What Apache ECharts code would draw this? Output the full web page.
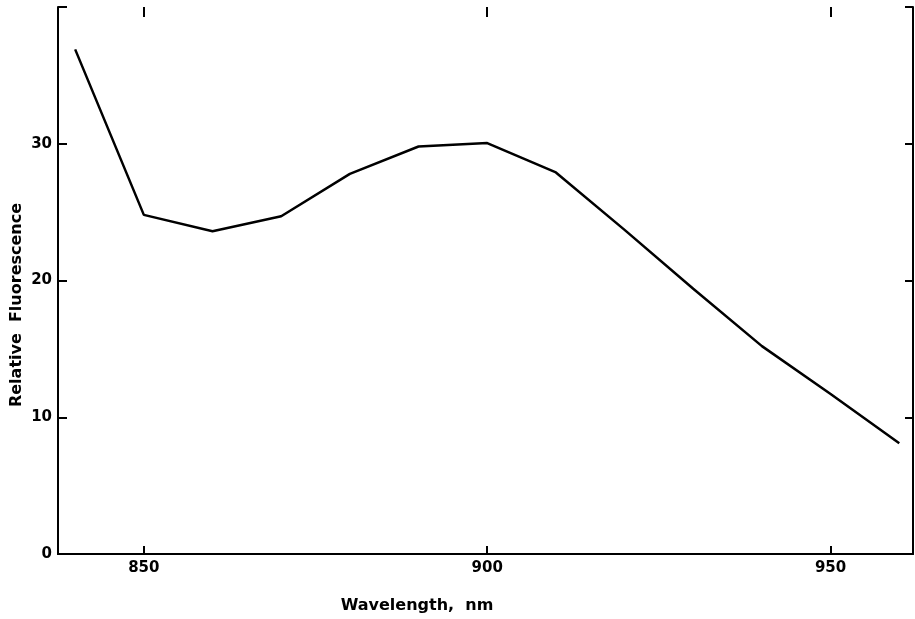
<!DOCTYPE html>
<html>
<head>
<meta charset="utf-8">
<script src="https://cdn.jsdelivr.net/npm/echarts@6/dist/echarts.min.js"></script>
<style>
  html, body { margin: 0; padding: 0; background: #fff; }
  #main { width: 915px; height: 619px; }
</style>
</head>
<body>
<div id="main"></div>
<script>
// values
const wavelength = [840, 850, 860, 870, 880, 890, 900, 910, 920, 930, 940, 950, 960];
const fluorescence = [36.9, 24.8, 23.6, 24.7, 27.8, 29.8, 30.05, 27.9, 23.7, 19.4, 15.2, 11.7, 8.1];
const xTicks = [850, 900, 950];
const yLabels = [0, 10, 20, 30];

const font = 'DejaVu Sans';
const chart = echarts.init(document.getElementById('main'));

const axisLine = { show: true, lineStyle: { color: '#000', width: 2 } };
const tickStyle = { color: '#000', width: 2 };

// second grid only carries the x ticks; it is wider so that 800..1000 step 50
// lands 850/900/950 on the same pixels as the main axis (837.5..962)
const xMin = 837.5, xMax = 962;
const gLeft = 58, gRight = 2;
const pxPerUnit = (915 - gLeft - gRight) / (xMax - xMin);
const tickGrid = {
  left: gLeft - (xMin - 800) * pxPerUnit,
  right: gRight - (1000 - xMax) * pxPerUnit,
  top: 7, bottom: 65,
  outerBoundsMode: 'none'
};

const hiddenTickAxis = (pos, len) => ({
  type: 'value', gridIndex: 1, position: pos, min: 800, max: 1000, interval: 50,
  axisLine: { show: false },
  axisTick: { show: true, inside: true, length: len, lineStyle: tickStyle },
  axisLabel: { show: false },
  splitLine: { show: false }
});

chart.setOption({
  animation: false,
  backgroundColor: '#fff',
  grid: [
    { left: gLeft, right: gRight, top: 7, bottom: 65, containLabel: false, outerBoundsMode: 'none' },
    tickGrid
  ],
  xAxis: [
    {
      type: 'value', position: 'bottom', min: xMin, max: xMax,
      axisLine: axisLine,
      axisTick: { show: false },
      axisLabel: { customValues: xTicks, color: '#000', fontFamily: font, fontWeight: 'bold', fontSize: 15, margin: 7 },
      splitLine: { show: false }
    },
    {
      type: 'value', position: 'top', min: xMin, max: xMax,
      axisLine: axisLine,
      axisTick: { show: false },
      axisLabel: { show: false },
      splitLine: { show: false }
    },
    hiddenTickAxis('bottom', 8),
    hiddenTickAxis('top', 10)
  ],
  yAxis: [
    {
      type: 'value', position: 'left', min: 0, max: 40, interval: 10,
      axisLine: axisLine,
      axisTick: { show: true, inside: true, length: 9, lineStyle: tickStyle },
      axisLabel: {
        color: '#000', fontFamily: font, fontWeight: 'bold', fontSize: 15, margin: 6,
        formatter: v => (yLabels.includes(v) ? String(v) : '')
      },
      splitLine: { show: false }
    },
    {
      type: 'value', position: 'right', min: 0, max: 40, interval: 10,
      axisLine: axisLine,
      axisTick: { show: true, inside: true, length: 8, lineStyle: tickStyle },
      axisLabel: { show: false },
      splitLine: { show: false }
    },
    {
      type: 'value', gridIndex: 1, min: 0, max: 40, show: false
    }
  ],
  graphic: [
    {
      type: 'text', x: 417, y: 606,
      style: { text: 'Wavelength,  nm', fill: '#000', font: 'bold 16px "DejaVu Sans"', textAlign: 'center', textVerticalAlign: 'middle' }
    },
    {
      type: 'text', x: 17, y: 305, rotation: Math.PI / 2,
      style: { text: 'Relative  Fluorescence', fill: '#000', font: 'bold 16px "DejaVu Sans"', textAlign: 'center', textVerticalAlign: 'middle' }
    }
  ],
  series: [
    {
      type: 'line',
      xAxisIndex: 0, yAxisIndex: 0,
      data: wavelength.map((w, i) => [w, fluorescence[i]]),
      showSymbol: false,
      lineStyle: { color: '#000', width: 2.5 }
    }
  ]
});
</script>
</body>
</html>
